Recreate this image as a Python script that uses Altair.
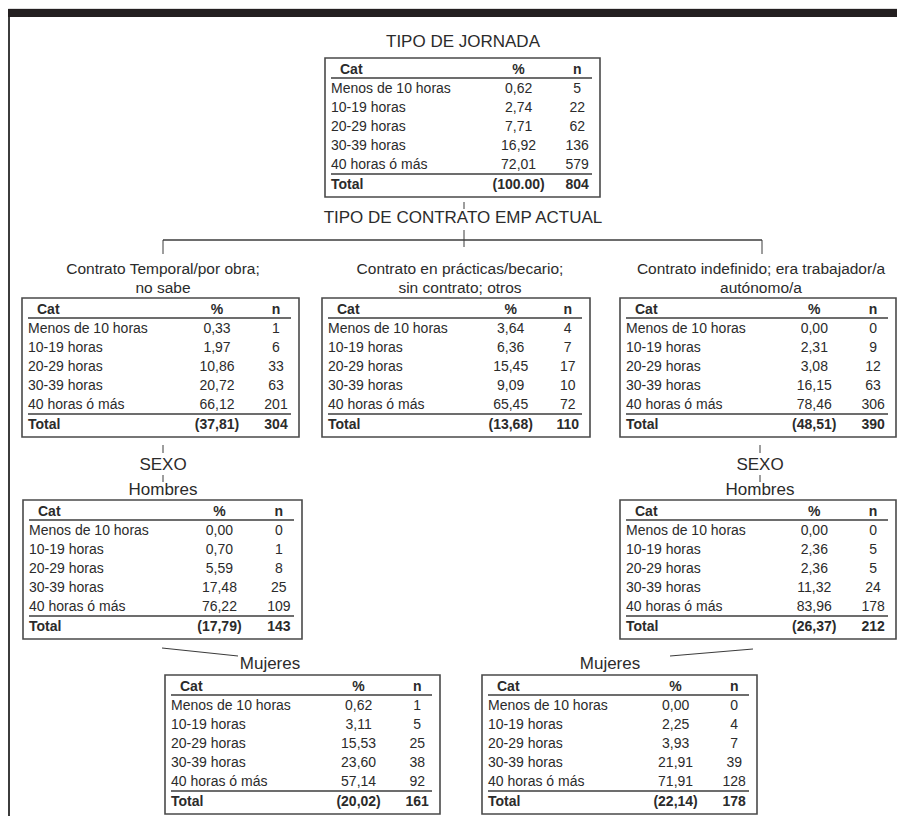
import altair as alt
import pandas as pd

# ---------------- data ----------------
cats = ["Menos de 10 horas", "10-19 horas", "20-29 horas", "30-39 horas", "40 horas ó más"]

root_pct = [0.62, 2.74, 7.71, 16.92, 72.01]
root_n = [5, 22, 62, 136, 579]
root_total = (100.00, 804)

temp_pct = [0.33, 1.97, 10.86, 20.72, 66.12]
temp_n = [1, 6, 33, 63, 201]
temp_total = (37.81, 304)

prac_pct = [3.64, 6.36, 15.45, 9.09, 65.45]
prac_n = [4, 7, 17, 10, 72]
prac_total = (13.68, 110)

indef_pct = [0.00, 2.31, 3.08, 16.15, 78.46]
indef_n = [0, 9, 12, 63, 306]
indef_total = (48.51, 390)

temp_h_pct = [0.00, 0.70, 5.59, 17.48, 76.22]
temp_h_n = [0, 1, 8, 25, 109]
temp_h_total = (17.79, 143)

temp_m_pct = [0.62, 3.11, 15.53, 23.60, 57.14]
temp_m_n = [1, 5, 25, 38, 92]
temp_m_total = (20.02, 161)

indef_h_pct = [0.00, 2.36, 2.36, 11.32, 83.96]
indef_h_n = [0, 5, 5, 24, 178]
indef_h_total = (26.37, 212)

indef_m_pct = [0.00, 2.25, 3.93, 21.91, 71.91]
indef_m_n = [0, 4, 7, 39, 128]
indef_m_total = (22.14, 178)

split_titles = ["TIPO DE JORNADA", "TIPO DE CONTRATO EMP ACTUAL", "SEXO"]
branch_labels = {
    "temp": ["Contrato Temporal/por obra;", "no sabe"],
    "prac": ["Contrato en prácticas/becario;", "sin contrato; otros"],
    "indef": ["Contrato indefinido; era trabajador/a", "autónomo/a"],
}
sex_labels = ["Hombres", "Mujeres"]

# ---------------- layout (page pixel coordinates) ----------------
TXT = "#2b2b2b"
LINE = "#3c3c3c"
H = 139

nodes = [
    # name, pct, n, total, decimal sep of total, left, top, width
    ("root", root_pct, root_n, root_total, ".", 325, 58, 275),
    ("temp", temp_pct, temp_n, temp_total, ",", 22, 298, 277),
    ("prac", prac_pct, prac_n, prac_total, ",", 322, 298, 268),
    ("indef", indef_pct, indef_n, indef_total, ",", 620, 298, 276),
    ("temp_h", temp_h_pct, temp_h_n, temp_h_total, ",", 23, 500, 279),
    ("temp_m", temp_m_pct, temp_m_n, temp_m_total, ",", 165, 675, 275),
    ("indef_h", indef_h_pct, indef_h_n, indef_h_total, ",", 620, 500, 276),
    ("indef_m", indef_m_pct, indef_m_n, indef_m_total, ",", 482, 675, 275),
]


def fmt(v, sep=","):
    return f"{v:.2f}".replace(".", sep)


left_norm, center_norm, left_bold, center_bold = [], [], [], []
boxes, rules = [], []

for name, pct, n, tot, sep, L, T, W in nodes:
    k = W / 277.0
    cp = L + 195 * k
    cn = L + 254 * k
    ue = L + W - 8
    boxes.append({"x": L, "x2": L + W, "y": T, "y2": T + H})
    # header
    left_bold.append({"x": L + 15, "y": T + 12, "t": "Cat", "s": 14})
    center_bold.append({"x": cp, "y": T + 12, "t": "%", "s": 14})
    center_bold.append({"x": cn, "y": T + 12, "t": "n", "s": 14})
    rules.append({"x": L + 6, "x2": ue, "y": T + 20, "y2": T + 20, "w": 1.5})
    for i, c in enumerate(cats):
        yy = T + 31 + 19 * i
        left_norm.append({"x": L + 6, "y": yy, "t": c, "s": 14})
        center_norm.append({"x": cp, "y": yy, "t": fmt(pct[i]), "s": 14})
        center_norm.append({"x": cn, "y": yy, "t": str(n[i]), "s": 14})
    rules.append({"x": L + 6, "x2": ue, "y": T + 116, "y2": T + 116, "w": 1.5})
    left_bold.append({"x": L + 6, "y": T + 127, "t": "Total", "s": 14})
    center_bold.append({"x": cp, "y": T + 127, "t": "(" + fmt(tot[0], sep) + ")", "s": 14})
    center_bold.append({"x": cn, "y": T + 127, "t": str(tot[1]), "s": 14})

# titles and branch labels
center_norm += [
    {"x": 463, "y": 42, "t": split_titles[0], "s": 17},
    {"x": 463, "y": 218, "t": split_titles[1], "s": 17},
    {"x": 163, "y": 465, "t": split_titles[2], "s": 17},
    {"x": 760, "y": 465, "t": split_titles[2], "s": 17},
    {"x": 163, "y": 490, "t": sex_labels[0], "s": 17},
    {"x": 760, "y": 490, "t": sex_labels[0], "s": 17},
    {"x": 270, "y": 664, "t": sex_labels[1], "s": 17},
    {"x": 610, "y": 664, "t": sex_labels[1], "s": 17},
]
for key, cx in (("temp", 163), ("prac", 460), ("indef", 761)):
    for j, line in enumerate(branch_labels[key]):
        center_norm.append({"x": cx, "y": 269 + 19 * j, "t": line, "s": 15.5})

# connectors
rules += [
    {"x": 464, "x2": 464, "y": 202, "y2": 209, "w": 1},
    {"x": 464, "x2": 464, "y": 230, "y2": 247, "w": 1},
    {"x": 163, "x2": 762, "y": 240, "y2": 240, "w": 1.5},
    {"x": 163, "x2": 163, "y": 240, "y2": 254, "w": 1},
    {"x": 762, "x2": 762, "y": 240, "y2": 254, "w": 1},
    {"x": 163, "x2": 163, "y": 445, "y2": 453, "w": 1},
    {"x": 163, "x2": 163, "y": 475, "y2": 482, "w": 1},
    {"x": 760, "x2": 760, "y": 445, "y2": 453, "w": 1},
    {"x": 760, "x2": 760, "y": 475, "y2": 482, "w": 1},
    {"x": 162, "x2": 238, "y": 648, "y2": 656, "w": 1.2},
    {"x": 670, "x2": 753, "y": 656, "y2": 649, "w": 1.2},
    # page frame: left line
    {"x": 9, "x2": 9, "y": 17, "y2": 816, "w": 2},
]

frame = pd.DataFrame([{"x": 8, "x2": 897, "y": 9, "y2": 17}])

# ---------------- chart ----------------
X = alt.Scale(domain=[8, 897], nice=False, zero=False)
Y = alt.Scale(domain=[8, 816], nice=False, zero=False, reverse=True)
FONT = "Liberation Sans"


def xenc():
    return alt.X("x:Q", scale=X, axis=None)


def yenc():
    return alt.Y("y:Q", scale=Y, axis=None)


band = alt.Chart(frame).mark_rect(color="#231f20").encode(
    x=xenc(), x2="x2:Q", y=yenc(), y2="y2:Q"
)

box_layer = alt.Chart(pd.DataFrame(boxes)).mark_rect(
    fill="white", fillOpacity=0, stroke="#4a4a4a", strokeWidth=1.6
).encode(x=xenc(), x2="x2:Q", y=yenc(), y2="y2:Q")

rule_layer = alt.Chart(pd.DataFrame(rules)).mark_rule(color=LINE).encode(
    x=xenc(), x2="x2:Q", y=yenc(), y2="y2:Q",
    strokeWidth=alt.StrokeWidth("w:Q", scale=None, legend=None),
)


def text_layer(rows, align, weight):
    return alt.Chart(pd.DataFrame(rows)).mark_text(
        align=align, baseline="middle", font=FONT, fontWeight=weight, color=TXT
    ).encode(
        x=xenc(), y=yenc(), text="t:N",
        size=alt.Size("s:Q", scale=None, legend=None),
    )


chart = alt.layer(
    band,
    box_layer,
    rule_layer,
    text_layer(left_norm, "left", "normal"),
    text_layer(center_norm, "center", "normal"),
    text_layer(left_bold, "left", "bold"),
    text_layer(center_bold, "center", "bold"),
).properties(
    width=889, height=808, padding=0, autosize=alt.AutoSizeParams(type="none")
).configure_view(strokeWidth=0).configure(background="white")

chart.save("out.html", embed_options={"renderer": "svg", "actions": False})
